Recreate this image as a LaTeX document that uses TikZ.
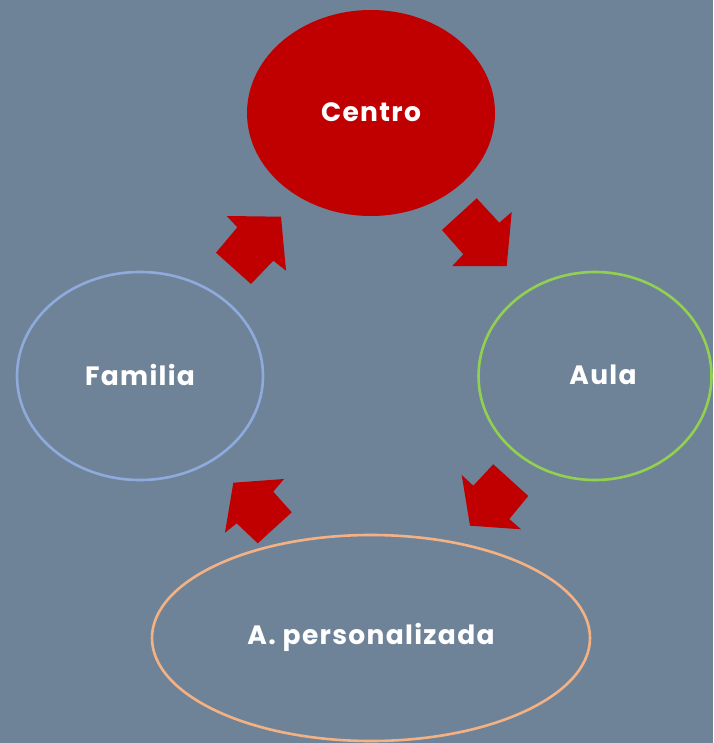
\documentclass[tikz,border=0pt]{standalone}
\usepackage{fontspec}
\setmainfont{Poppins}[LetterSpace=5]
\definecolor{bg}{HTML}{6F8398}
\definecolor{dred}{HTML}{C00000}
\definecolor{fblue}{HTML}{8FAADC}
\definecolor{agreen}{HTML}{92D050}
\definecolor{porange}{HTML}{F4B183}
\begin{document}
\begin{tikzpicture}[x=1pt,y=-1pt,
  lbl/.style={text=white,font=\fontsize{26.5}{31}\selectfont\bfseries},
  ring/.style={line width=2.6pt},
  blockarrow/.style={fill=dred,draw=none}]
\fill[bg] (0,0) rectangle (713,743);
\useasboundingbox (0,0) rectangle (713,743);
% ellipses
\fill[dred] (371,113) ellipse [x radius=124, y radius=103];
\draw[ring,fblue] (140,376) ellipse [x radius=123, y radius=104];
\draw[ring,agreen] (595,376) ellipse [x radius=116.5, y radius=104];
\draw[ring,porange] (371,638) ellipse [x radius=219, y radius=103];
% labels
\node[lbl] (centro) at (371,112) {Centro};
\node[lbl] (familia) at (140,375) {Familia};
\node[lbl] (aula) at (603,375) {Aula};
\node[lbl] (pers) at (371,637) {A. personalizada};
% block arrows
\fill[blockarrow] (226.7,216) -- (281,216.7) -- (286,270.7) -- (273.3,260.7) -- (251,284) -- (216,252.7) -- (237.3,227.3) -- cycle;
\fill[blockarrow] (476.7,198.3) -- (499.3,222.7) -- (511.7,212) -- (506.7,266) -- (452.3,266) -- (463.3,254.3) -- (442,230) -- cycle;
\fill[blockarrow] (461.7,475) -- (473.3,485.7) -- (493.3,464.3) -- (528.3,496) -- (509.3,519) -- (521,529.3) -- (470,525.7) -- cycle;
\fill[blockarrow] (233.3,482.7) -- (284,479) -- (273.3,491.7) -- (291.7,512.3) -- (257.7,543.3) -- (236.7,523.3) -- (225,532.7) -- cycle;
\end{tikzpicture}
\end{document}
